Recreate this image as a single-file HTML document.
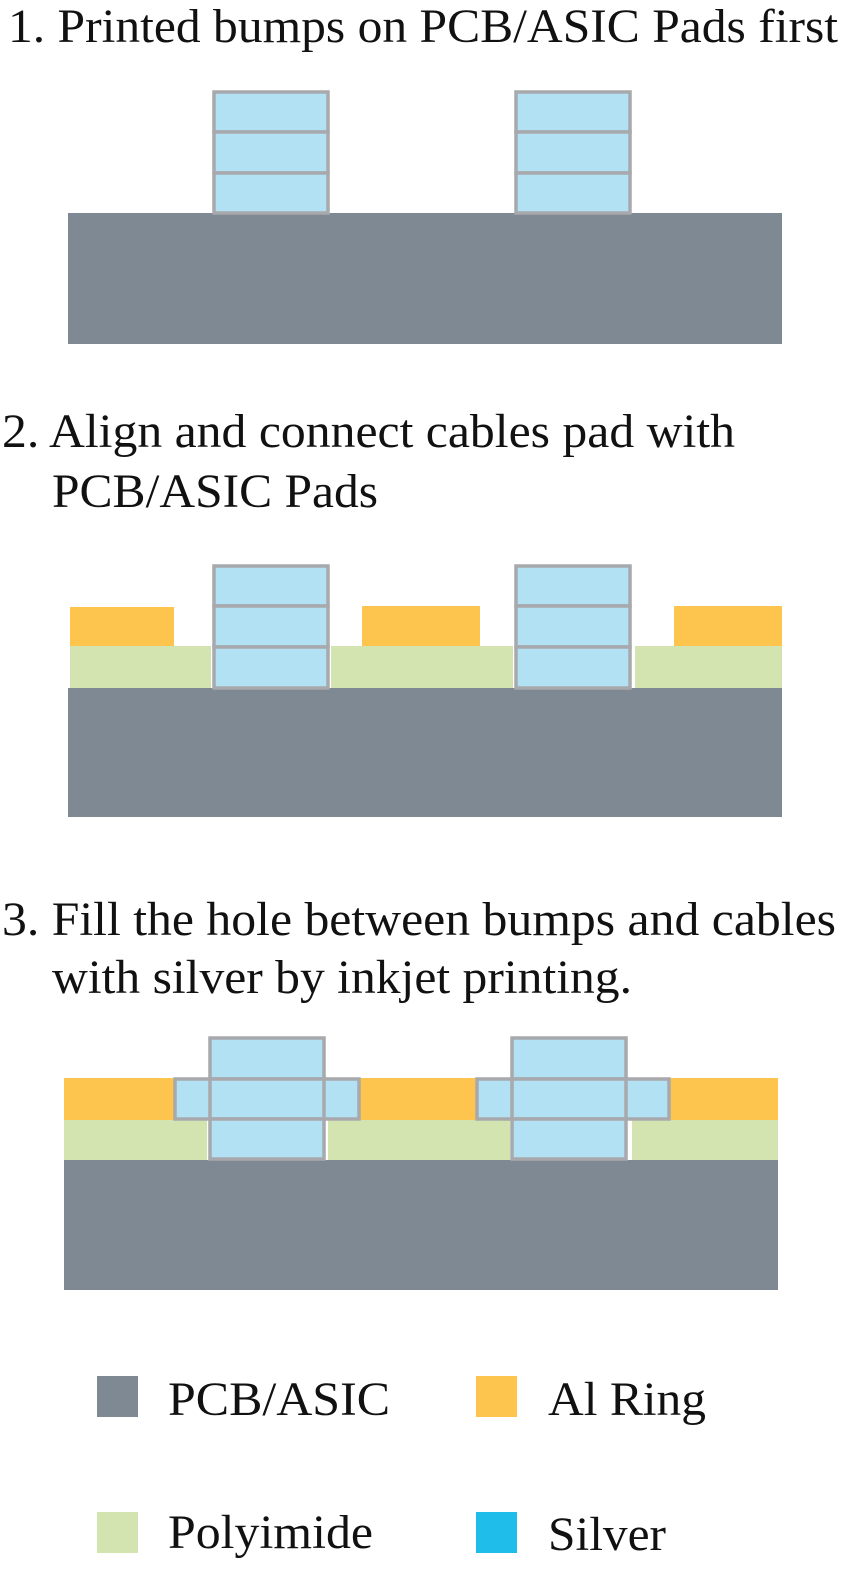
<!DOCTYPE html>
<html><head><meta charset="utf-8"><style>
html,body{margin:0;padding:0;background:#fff;overflow:hidden;width:852px;height:1573px;}
svg{display:block;}
text{font-family:"Liberation Serif","Times New Roman",Times,serif;font-size:48px;fill:#111;}
</style></head><body>
<svg width="852" height="1573" viewBox="0 0 852 1573" font-family="Liberation Serif, Times New Roman, serif">
<text x="8" y="42" textLength="830" lengthAdjust="spacingAndGlyphs">1. Printed bumps on PCB/ASIC Pads first</text>
<rect x="68" y="213" width="714" height="131" fill="#7f8993"/>
<g fill="#b3e1f4" stroke="#a7a9ac" stroke-width="3.5">
<rect x="214" y="92" width="114" height="40"/><rect x="214" y="132" width="114" height="41"/><rect x="214" y="173" width="114" height="40"/>
<rect x="516" y="92" width="114" height="40"/><rect x="516" y="132" width="114" height="41"/><rect x="516" y="173" width="114" height="40"/>
</g>

<text x="2" y="447" textLength="733" lengthAdjust="spacingAndGlyphs">2. Align and connect cables pad with</text>
<text x="52" y="507" textLength="326" lengthAdjust="spacingAndGlyphs">PCB/ASIC Pads</text>
<rect x="68" y="688" width="714" height="129" fill="#7f8993"/>
<g fill="#fdc44e"><rect x="70" y="607" width="104" height="39"/><rect x="362" y="606" width="118" height="40"/><rect x="674" y="606" width="108" height="40"/></g>
<g fill="#d4e4b0"><rect x="70" y="646" width="141" height="42"/><rect x="331" y="646" width="182" height="42"/><rect x="635" y="646" width="147" height="42"/></g>
<g fill="#b3e1f4" stroke="#a7a9ac" stroke-width="3.5">
<rect x="214" y="566" width="114" height="40"/><rect x="214" y="606" width="114" height="41"/><rect x="214" y="647" width="114" height="41"/>
<rect x="516" y="566" width="114" height="40"/><rect x="516" y="606" width="114" height="41"/><rect x="516" y="647" width="114" height="41"/>
</g>

<text x="2" y="935" textLength="834" lengthAdjust="spacingAndGlyphs">3. Fill the hole between bumps and cables</text>
<text x="52" y="993" textLength="580" lengthAdjust="spacingAndGlyphs">with silver by inkjet printing.</text>
<rect x="64" y="1160" width="714" height="130" fill="#7f8993"/>
<g fill="#fdc44e"><rect x="64" y="1078" width="112" height="42"/><rect x="358" y="1078" width="120" height="42"/><rect x="668" y="1078" width="110" height="42"/></g>
<g fill="#d4e4b0"><rect x="64" y="1120" width="143" height="40"/><rect x="328" y="1120" width="182" height="40"/><rect x="632" y="1120" width="146" height="40"/></g>
<g fill="#b3e1f4" stroke="#a7a9ac" stroke-width="3.5">
<rect x="175" y="1079" width="184" height="40"/>
<rect x="477" y="1079" width="192" height="40"/>
<rect x="210" y="1038" width="114" height="41"/><rect x="210" y="1079" width="114" height="40"/><rect x="210" y="1119" width="114" height="40"/>
<rect x="512" y="1038" width="114" height="41"/><rect x="512" y="1079" width="114" height="40"/><rect x="512" y="1119" width="114" height="40"/>
</g>

<rect x="97" y="1376" width="41" height="41" fill="#7f8993"/>
<rect x="476" y="1376" width="41" height="41" fill="#fdc44e"/>
<rect x="97" y="1512" width="41" height="41" fill="#d4e4b0"/>
<rect x="476" y="1512" width="41" height="41" fill="#1fbde9"/>
<text x="168" y="1415" textLength="222" lengthAdjust="spacingAndGlyphs">PCB/ASIC</text>
<text x="548" y="1415" textLength="158" lengthAdjust="spacingAndGlyphs">Al Ring</text>
<text x="168" y="1548" textLength="205" lengthAdjust="spacingAndGlyphs">Polyimide</text>
<text x="548" y="1550" textLength="118" lengthAdjust="spacingAndGlyphs">Silver</text>
</svg>
</body></html>
